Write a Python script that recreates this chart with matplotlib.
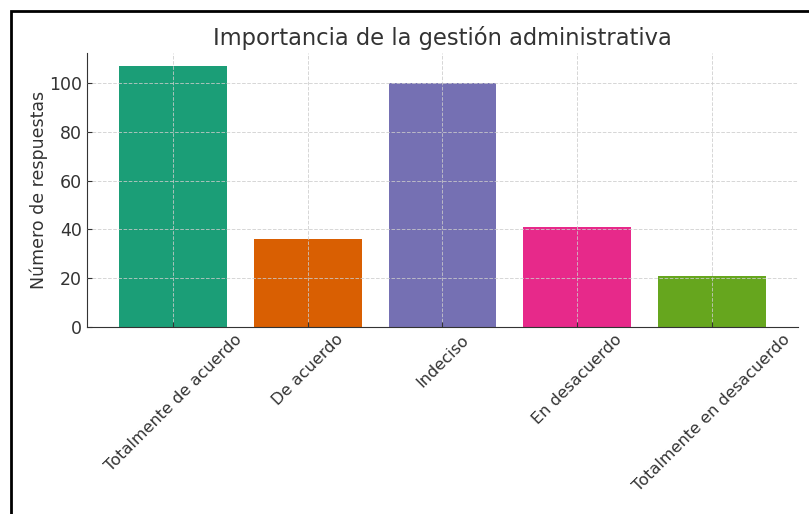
import matplotlib.pyplot as plt
from matplotlib.patches import Rectangle

categorias = ['Totalmente de acuerdo', 'De acuerdo', 'Indeciso', 'En desacuerdo', 'Totalmente en desacuerdo']
respuestas = [107, 36, 100, 41, 21]
colores = ['#1b9e77', '#d95f02', '#7570b3', '#e7298a', '#66a61e']

fig = plt.figure(figsize=(8.09, 5.14), dpi=100)
ax = fig.add_axes([87/809, 1-327/514, (798-87)/809, (327-53)/514])
ax.bar(categorias, respuestas, color=colores, width=0.8)
ax.set_title('Importancia de la gestión administrativa', fontsize=16.3, color='#333333', pad=6)
ax.set_ylabel('Número de respuestas', fontsize=12.5, color='#333333', labelpad=1)
ax.grid(True, linestyle='--', color='#cccccc', linewidth=0.7, alpha=0.8)
ax.set_axisbelow(False)
for s in ['top', 'right']:
    ax.spines[s].set_visible(False)
for s in ['left', 'bottom']:
    ax.spines[s].set_color('#333333')
ax.tick_params(axis='both', direction='in', labelcolor='#333333', color='#333333')
ax.tick_params(axis='y', labelsize=12.5)
ax.tick_params(axis='x', labelsize=11.6)
plt.setp(ax.get_xticklabels(), rotation=45)

# marco negro de la captura
fig.patches.append(Rectangle((11/809, -0.1), 1.2, 1 - 11/514 + 0.1, transform=fig.transFigure,
                             fill=False, edgecolor='black', linewidth=2))
fig.savefig('out.png', dpi=100)
